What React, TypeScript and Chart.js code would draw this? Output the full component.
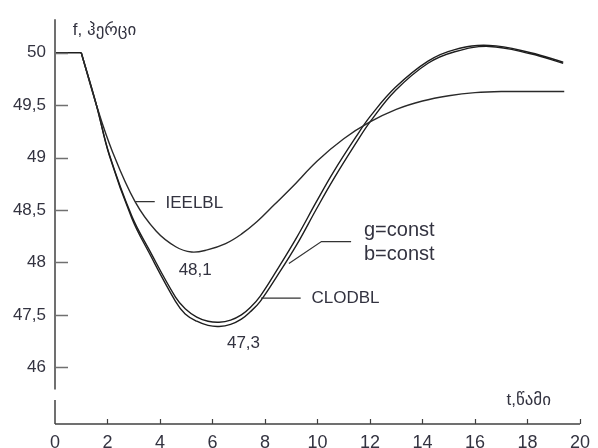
import { useEffect, useRef } from "react";
import { Chart, registerables } from "chart.js";

Chart.register(...registerables);

// ---- data ----
// flat pre-disturbance part (common to all curves)
const startT = [0, 1];
const startF = [50, 50];

const ieelblT = [1, 1.58, 2.2, 3.05, 3.85, 4.6, 5.2, 5.8, 6.5, 7.1, 7.7, 8.35, 9, 10, 11, 12, 13, 14, 15, 16, 17, 19.4];
const ieelblF = [50, 49.5, 49.05, 48.58, 48.3, 48.15, 48.1, 48.12, 48.18, 48.27, 48.39, 48.55, 48.71, 48.97, 49.18, 49.34, 49.46, 49.54, 49.59, 49.62, 49.63, 49.63];

const clodblT = [1, 1.58, 2.07, 2.93, 3.57, 4.59, 4.96, 5.4, 5.83, 6.25, 6.69, 7.1, 7.44, 7.82, 8.46, 9.21, 9.96, 10.6, 11.47, 12.03, 12.97, 14.21, 15.23, 16.54, 18.12, 19.36];
const clodblF = [50, 49.5, 49.02, 48.42, 48.1, 47.63, 47.51, 47.44, 47.4, 47.39, 47.41, 47.46, 47.53, 47.63, 47.87, 48.17, 48.51, 48.79, 49.14, 49.35, 49.64, 49.9, 50.01, 50.06, 49.99, 49.9];

const gbConstT = [1, 1.58, 2.07, 2.93, 3.57, 4.59, 4.96, 5.4, 5.83, 6.25, 6.69, 7.1, 7.44, 7.82, 8.46, 9.21, 9.96, 10.6, 11.47, 12.03, 12.97, 14.21, 15.23, 16.54, 18.12, 19.36];
const gbConstF = [50, 49.5, 49.03, 48.44, 48.13, 47.67, 47.56, 47.48, 47.44, 47.43, 47.45, 47.5, 47.57, 47.68, 47.93, 48.24, 48.58, 48.86, 49.2, 49.4, 49.67, 49.92, 50.03, 50.07, 50.0, 49.91];

const xTickValues = [0, 2, 4, 6, 8, 10, 12, 14, 16, 18, 20];
const yTickValues = [47, 47.5, 48, 48.5, 49, 49.5, 50];
const yTickLabels = ["46", "47,5", "48", "48,5", "49", "49,5", "50"];

const xMin = 0;
const xMax = 20;
const yMin = 46.46;
const yMax = 50.32;
const yBreak = [46.79, 46.69];

const yTitle = "f, ჰერცი";
const xTitle = "t,წამი";
const ieelblLabel = "IEELBL";
const clodblLabel = "CLODBL";
const gConstLabel = "g=const";
const bConstLabel = "b=const";
const minUpperLabel = "48,1";
const minLowerLabel = "47,3";

const FONT = '"Liberation Sans", Arial, "DejaVu Sans", sans-serif';
const TEXT_COLOR = "#333340";

const toPts = (t: number[], f: number[]) => t.map((v, i) => ({ x: v, y: f[i] }));

const overlayPlugin = {
  id: "overlay",
  afterDraw(chart: any) {
    const ctx = chart.ctx as CanvasRenderingContext2D;
    const xs = chart.scales.x;
    const ys = chart.scales.y;
    const area = chart.chartArea;
    const px = (v: number) => xs.getPixelForValue(v);
    const py = (v: number) => ys.getPixelForValue(v);
    ctx.save();

    // y axis with break
    ctx.strokeStyle = "#707070";
    ctx.lineWidth = 2;
    ctx.beginPath();
    ctx.moveTo(area.left, area.top);
    ctx.lineTo(area.left, py(yBreak[0]));
    ctx.moveTo(area.left, py(yBreak[1]));
    ctx.lineTo(area.left, area.bottom);
    ctx.stroke();

    // y ticks (inward)
    ctx.lineWidth = 1.5;
    ctx.beginPath();
    yTickValues.forEach((v) => {
      const y = Math.round(py(v)) + 0.5;
      ctx.moveTo(area.left, y);
      ctx.lineTo(area.left + 13, y);
    });
    ctx.stroke();

    // x axis
    ctx.strokeStyle = "#404040";
    ctx.lineWidth = 1.5;
    ctx.beginPath();
    ctx.moveTo(area.left, area.bottom);
    ctx.lineTo(area.right, area.bottom);
    ctx.stroke();
    ctx.lineWidth = 1.2;
    ctx.beginPath();
    xTickValues.forEach((v) => {
      if (v === xMin) return;
      const x = Math.round(px(v)) + 0.5;
      ctx.moveTo(x, area.bottom);
      ctx.lineTo(x, area.bottom - 5);
    });
    ctx.stroke();

    // leader lines
    ctx.strokeStyle = "#333333";
    ctx.lineWidth = 1.2;
    ctx.beginPath();
    ctx.moveTo(px(3.05), py(48.58));
    ctx.lineTo(px(3.8), py(48.58));
    ctx.moveTo(px(7.85), py(47.66));
    ctx.lineTo(px(9.36), py(47.66));
    ctx.moveTo(px(8.91), py(47.99));
    ctx.lineTo(px(10.15), py(48.2));
    ctx.lineTo(px(11.28), py(48.2));
    ctx.stroke();

    // texts
    ctx.fillStyle = TEXT_COLOR;
    ctx.textBaseline = "middle";
    ctx.textAlign = "left";
    ctx.font = `17px ${FONT}`;
    ctx.fillText(yTitle, px(0.68), py(50.21));
    ctx.fillText(xTitle, px(17.2), py(46.69));
    ctx.fillText(ieelblLabel, px(4.21), py(48.56));
    ctx.fillText(clodblLabel, px(9.77), py(47.66));
    ctx.font = `20px ${FONT}`;
    ctx.fillText(gConstLabel, px(11.77), py(48.31));
    ctx.fillText(bConstLabel, px(11.77), py(48.08));
    ctx.font = `17px ${FONT}`;
    ctx.textAlign = "center";
    ctx.fillText(minUpperLabel, px(5.34), py(47.93));
    ctx.fillText(minLowerLabel, px(7.18), py(47.23));
    ctx.restore();
  },
};

export default function App() {
  const canvasRef = useRef<HTMLCanvasElement | null>(null);

  useEffect(() => {
    if (!canvasRef.current) return;
    const lineStyle = {
      showLine: true,
      pointRadius: 0,
      borderWidth: 1.4,
      borderColor: "#1e1e1e",
      tension: 0.4,
      fill: false,
    };
    const chart = new Chart(canvasRef.current, {
      type: "scatter",
      data: {
        datasets: [
          { label: "start", data: toPts(startT, startF), ...lineStyle, tension: 0 },
          { label: ieelblLabel, data: toPts(ieelblT, ieelblF), ...lineStyle, borderColor: "#2a2a2a" },
          { label: clodblLabel, data: toPts(clodblT, clodblF), ...lineStyle },
          { label: "g=const, b=const", data: toPts(gbConstT, gbConstF), ...lineStyle },
        ],
      },
      options: {
        animation: false,
        responsive: false,
        maintainAspectRatio: false,
        layout: { padding: { top: 15, right: 11, bottom: 0, left: 0 } },
        plugins: { legend: { display: false }, tooltip: { enabled: false } },
        scales: {
          x: {
            type: "linear",
            min: xMin,
            max: xMax,
            grid: { display: false, drawTicks: false },
            border: { display: false },
            afterBuildTicks: (s: any) => {
              s.ticks = xTickValues.map((v) => ({ value: v }));
            },
            afterFit: (s: any) => {
              s.height = 24;
            },
            ticks: {
              autoSkip: false,
              maxRotation: 0,
              padding: 8,
              color: TEXT_COLOR,
              font: { family: FONT, size: 18 },
              callback: (v: any) => String(v),
            },
          },
          y: {
            type: "linear",
            min: yMin,
            max: yMax,
            grid: { display: false, drawTicks: false },
            border: { display: false },
            afterBuildTicks: (s: any) => {
              s.ticks = yTickValues.map((v) => ({ value: v }));
            },
            afterFit: (s: any) => {
              s.width = 55;
            },
            ticks: {
              autoSkip: false,
              padding: 9,
              color: TEXT_COLOR,
              font: { family: FONT, size: 17 },
              callback: (_v: any, i: number) => yTickLabels[i],
            },
          },
        },
      },
      plugins: [overlayPlugin],
    } as any);
    return () => chart.destroy();
  }, []);

  return (
    <div style={{ position: "absolute", left: 0, top: 0, width: 598, height: 448, background: "#fff" }}>
      <canvas ref={canvasRef} width={598} height={448} style={{ width: 598, height: 448 }} />
    </div>
  );
}
